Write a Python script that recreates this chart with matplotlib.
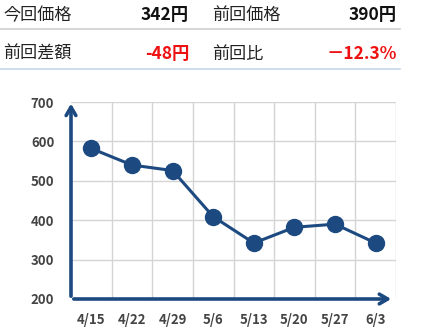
import matplotlib
matplotlib.use("Agg")
import matplotlib.pyplot as plt
from matplotlib.lines import Line2D

plt.rcParams['font.family'] = ['Noto Sans CJK JP', 'DejaVu Sans']

dates = ["4/15", "4/22", "4/29", "5/6", "5/13", "5/20", "5/27", "6/3"]
prices = [582, 540, 526, 409, 342, 382, 390, 342]
y_ticks = [200, 300, 400, 500, 600, 700]

labels_row1 = ["今回価格", "342円", "前回価格", "390円"]
labels_row2 = ["前回差額", "-48円", "前回比", "－12.3%"]

W, H = 428, 334
fig = plt.figure(figsize=(W / 100, H / 100), dpi=100)

navy = "#1c4a80"
grid_c = "#d4d4d4"

def fx(px):
    return px / W

def fy(py):
    return 1 - py / H

fs = 12.3
vfs = 12.5
fig.text(fx(3), fy(15), labels_row1[0], fontsize=fs, va="center", ha="left", color="#222222")
fig.text(fx(189), fy(15), labels_row1[1], fontsize=vfs, va="center", ha="right", color="#111111", fontweight="bold")
fig.text(fx(212), fy(15), labels_row1[2], fontsize=fs, va="center", ha="left", color="#222222")
fig.text(fx(397), fy(15), labels_row1[3], fontsize=vfs, va="center", ha="right", color="#111111", fontweight="bold")
fig.add_artist(Line2D([0, fx(400)], [fy(28.5), fy(28.5)], color="#d0d0d0", lw=1.2, transform=fig.transFigure))

fig.text(fx(3), fy(54), labels_row2[0], fontsize=fs, va="center", ha="left", color="#222222")
fig.text(fx(189), fy(54), labels_row2[1], fontsize=vfs, va="center", ha="right", color="#ee1111", fontweight="bold")
fig.text(fx(212), fy(54), labels_row2[2], fontsize=fs, va="center", ha="left", color="#222222")
fig.text(fx(397), fy(54), labels_row2[3], fontsize=vfs, va="center", ha="right", color="#ee1111", fontweight="bold")
fig.add_artist(Line2D([0, fx(400)], [fy(68.5), fy(68.5)], color="#c5d8ee", lw=1.2, transform=fig.transFigure))

# Chart
left, right, top, bottom = 71, 396, 102, 299
ax = fig.add_axes([fx(left), fy(bottom), (right - left) / W, (bottom - top) / H])
x = list(range(len(dates)))
ax.plot(x, prices, color=navy, lw=2.2, marker="o", markersize=11.5, zorder=5, clip_on=False)
ax.set_xlim(-0.5, len(dates) - 0.5)
ax.set_ylim(200, 700)
ax.set_yticks(y_ticks)
ax.set_xticks(x)
ax.set_xticklabels(dates)
for xv in [i + 0.5 for i in range(len(dates))]:
    ax.axvline(xv, color=grid_c, lw=1, zorder=1)
for yv in y_ticks[1:]:
    ax.axhline(yv, color=grid_c, lw=1, zorder=1)
for s in ax.spines.values():
    s.set_visible(False)
ax.tick_params(length=0, labelsize=9.5, labelcolor="#444444")
ax.tick_params(axis="y", pad=12)
ax.tick_params(axis="x", pad=10)
for t in ax.get_xticklabels() + ax.get_yticklabels():
    t.set_fontweight("bold")

# Axis arrows
ax.annotate("", xy=(-0.5, 703), xytext=(-0.5, 200),
            arrowprops=dict(arrowstyle="->,head_length=0.6,head_width=0.35", color=navy, lw=2.6),
            annotation_clip=False)
ax.annotate("", xy=(7.45, 200), xytext=(-0.5, 200),
            arrowprops=dict(arrowstyle="->,head_length=0.6,head_width=0.35", color=navy, lw=2.6),
            annotation_clip=False)

fig.savefig("out.png", dpi=100)
